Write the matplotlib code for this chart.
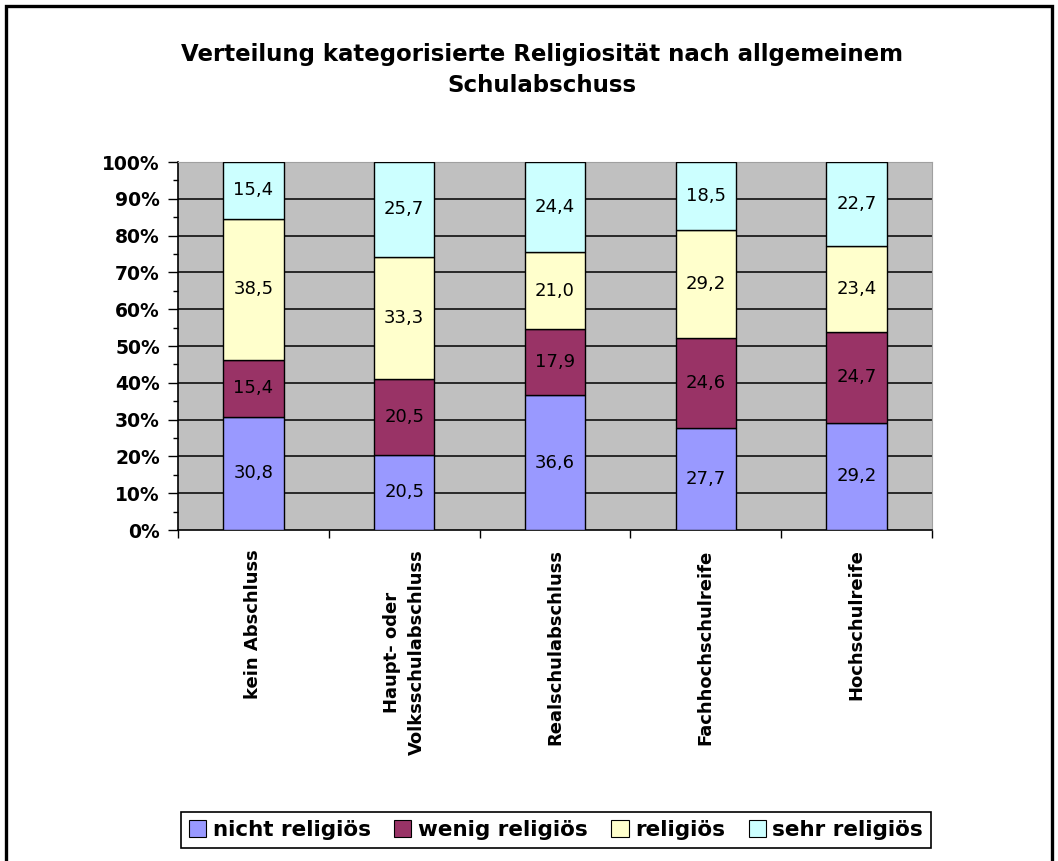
import numpy as np
import matplotlib as mpl
import matplotlib.pyplot as plt
from matplotlib.patches import Rectangle, Patch

# data (percent per school leaving certificate)
categories = ['kein Abschluss', 'Haupt- oder\nVolksschulabschluss', 'Realschulabschluss',
              'Fachhochschulreife', 'Hochschulreife']
series_names = ['nicht religiös', 'wenig religiös', 'religiös', 'sehr religiös']
nicht_religioes = [30.8, 20.5, 36.6, 27.7, 29.2]
wenig_religioes = [15.4, 20.5, 17.9, 24.6, 24.7]
religioes = [38.5, 33.3, 21.0, 29.2, 23.4]
sehr_religioes = [15.4, 25.7, 24.4, 18.5, 22.7]
colors = ['#9999FF', '#993366', '#FFFFCC', '#CCFFFF']
y_ticklabels = ['0%', '10%', '20%', '30%', '40%', '50%', '60%', '70%', '80%', '90%', '100%']

plt.rcParams['font.family'] = ['DejaVu Sans']

W, H = 1058, 861
fig = plt.figure(figsize=(W/100, H/100), dpi=100)
fig.patch.set_facecolor('white')

# outer chart border
fig.patches.append(Rectangle((6/W, -0.02), (1052-6)/W, 1.02 - 6/H, transform=fig.transFigure,
                             fill=False, edgecolor='black', linewidth=2.4))

ax = fig.add_axes([178/W, 1-530/H, 754/W, 368/H])
ax.set_facecolor('#C0C0C0')

raw = np.array([nicht_religioes, wenig_religioes, religioes, sehr_religioes])
tot = raw.sum(axis=0)
pct = raw / tot * 100.0
x = np.arange(len(categories))

bottom = np.zeros(len(categories))
for i in range(len(series_names)):
    ax.bar(x, pct[i], 0.4, bottom=bottom, color=colors[i], edgecolor='black',
           linewidth=1.0, zorder=3, label=series_names[i])
    for j in range(len(categories)):
        ax.text(x[j], bottom[j] + pct[i][j]/2.0, ('%.1f' % raw[i][j]).replace('.', ','),
                ha='center', va='center', fontsize=13, color='black', zorder=4)
    bottom += pct[i]

ax.set_xlim(-0.5, len(categories)-0.5)
ax.set_ylim(0, 100)

# gridlines
for yv in range(10, 101, 10):
    ax.axhline(yv, color='black', lw=1.1, zorder=1)

ax.set_yticks(np.arange(0, 101, 10))
ax.set_yticklabels(y_ticklabels, fontsize=13.5, fontweight='bold')
ax.yaxis.set_minor_locator(mpl.ticker.MultipleLocator(5))
ax.tick_params(axis='y', which='major', length=7, width=1, direction='out', pad=6)
ax.tick_params(axis='y', which='minor', length=3.5, width=1, direction='out')

ax.set_xticks(x)
ax.set_xticklabels(categories, rotation=90, fontsize=13, fontweight='bold',
                   multialignment='center', linespacing=1.5)
ax.xaxis.set_minor_locator(mpl.ticker.FixedLocator(np.arange(-0.5, len(categories), 1.0)))
ax.tick_params(axis='x', which='major', length=0, pad=14)
ax.tick_params(axis='x', which='minor', length=6, width=1, direction='out')

for s in ['left', 'bottom']:
    ax.spines[s].set_color('black')
    ax.spines[s].set_linewidth(1.2)
for s in ['top', 'right']:
    ax.spines[s].set_color('#A0A0A0')
    ax.spines[s].set_linewidth(0.8)

fig.text(542/W, 1-70/H, 'Verteilung kategorisierte Religiosität nach allgemeinem\nSchulabschuss',
         ha='center', va='center', fontsize=16.5, fontweight='bold', linespacing=1.5)

handles = [Patch(facecolor=colors[i], edgecolor='black', linewidth=0.8) for i in range(4)]
leg = fig.legend(handles, series_names, loc='center', bbox_to_anchor=(556/W, 1-830/H),
                 ncol=4, fancybox=False, framealpha=1, edgecolor='black',
                 handlelength=0.8, handleheight=0.8, handletextpad=0.3, columnspacing=1.1,
                 borderpad=0.35, borderaxespad=0, prop={'size': 15.5, 'weight': 'bold'})
leg.get_frame().set_linewidth(1.2)

fig.savefig('out.png', dpi=100)
